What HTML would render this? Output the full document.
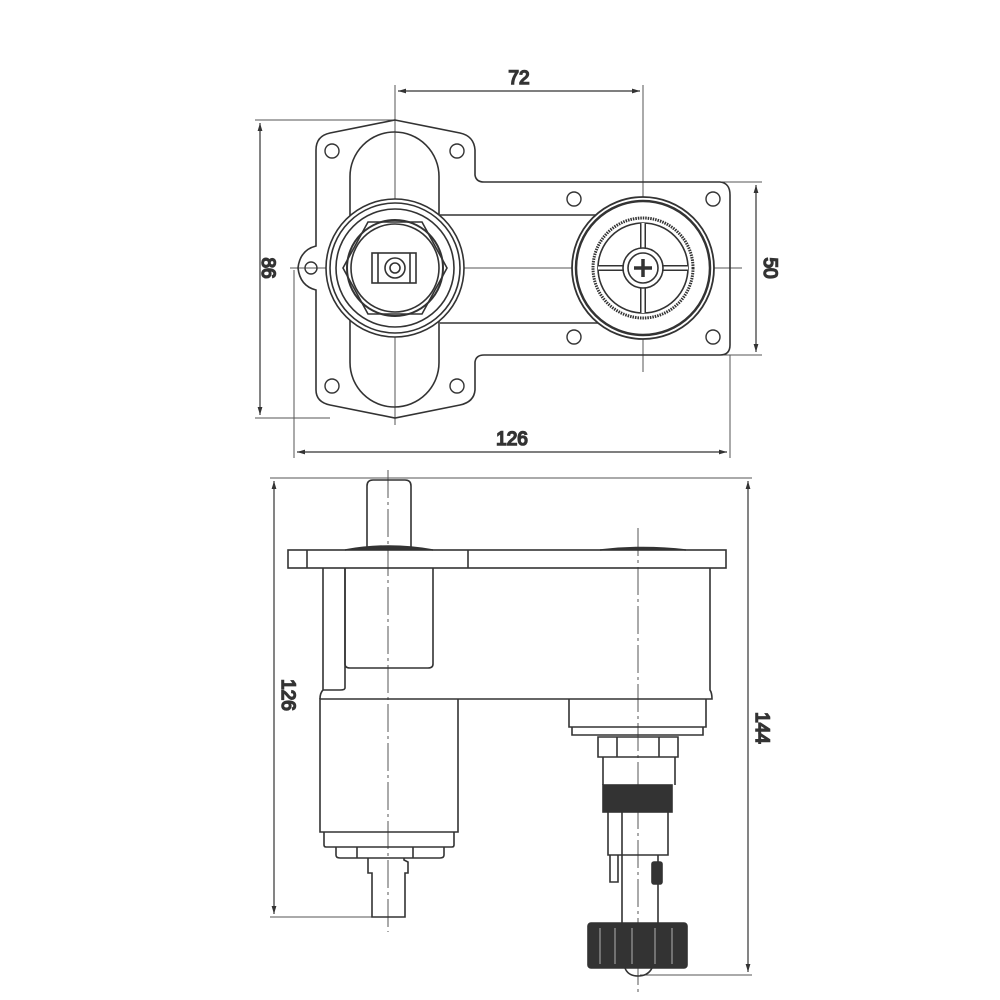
<!DOCTYPE html>
<html><head><style>body{margin:0;background:#fff}svg{display:block}text{font-family:"Liberation Sans",sans-serif;font-size:19px;fill:#333}</style></head><body>
<svg width="1000" height="1000" viewBox="0 0 1000 1000" fill="none" stroke="#333" stroke-width="1.6">
<defs><marker id="a" viewBox="0 0 10 10" refX="10" refY="5" markerWidth="14" markerHeight="8" orient="auto-start-reverse" markerUnits="userSpaceOnUse"><path d="M0,2 L10,5 L0,8z" fill="#333" stroke="none"/></marker></defs>
<!-- thin lines -->
<g stroke-width="1" stroke="#555">
<line x1="395" y1="85" x2="395" y2="425"/><line x1="643" y1="85" x2="643" y2="372"/>
<line x1="255" y1="120" x2="395" y2="120"/><line x1="255" y1="418" x2="330" y2="418"/>
<line x1="294" y1="270" x2="294" y2="458"/><line x1="730" y1="355" x2="730" y2="458"/>
<line x1="712" y1="182" x2="762" y2="182"/><line x1="712" y1="355" x2="762" y2="355"/>
<line x1="290" y1="268" x2="742" y2="268"/>
<line x1="270" y1="478" x2="752" y2="478"/><line x1="270" y1="917" x2="382" y2="917"/><line x1="640" y1="975" x2="752" y2="975"/>
<line x1="388" y1="470" x2="388" y2="932" stroke-dasharray="28 4 3 4"/><line x1="638" y1="528" x2="638" y2="992" stroke-dasharray="28 4 3 4"/>
</g>
<g stroke-width="1.2">
<line x1="398" y1="91" x2="640" y2="91" marker-start="url(#a)" marker-end="url(#a)"/>
<line x1="260" y1="123" x2="260" y2="415" marker-start="url(#a)" marker-end="url(#a)"/>
<line x1="297" y1="452" x2="727" y2="452" marker-start="url(#a)" marker-end="url(#a)"/>
<line x1="756" y1="185" x2="756" y2="352" marker-start="url(#a)" marker-end="url(#a)"/>
<line x1="274" y1="481" x2="274" y2="914" marker-start="url(#a)" marker-end="url(#a)"/>
<line x1="748" y1="481" x2="748" y2="972" marker-start="url(#a)" marker-end="url(#a)"/>
</g>
<text x="519" y="84" text-anchor="middle">72</text>
<text x="512" y="445" text-anchor="middle">126</text>
<text transform="translate(262,268) rotate(90)" text-anchor="middle">86</text>
<text transform="translate(764,268) rotate(90)" text-anchor="middle">50</text>
<text transform="translate(282,695) rotate(90)" text-anchor="middle">126</text>
<text transform="translate(756,728) rotate(90)" text-anchor="middle">144</text>
<!-- top plate -->
<path d="M395,120 L460,133 Q474,136 475,150 L475,175 Q476,182 484,182 L720,182 Q730,183 730,195 L730,345 Q730,355 720,355 L484,355 Q476,355 475,362 L475,390 Q474,402 460,405 L395,418 L330,405 Q316,402 316,390 L316,290 Q300,286 298,268 Q300,250 316,246 L316,150 Q316,136 330,133 Z"/>
<rect x="350" y="132" width="89" height="275" rx="44.5"/>
<g stroke-width="1.4"><circle cx="332" cy="151" r="7"/><circle cx="457" cy="151" r="7"/><circle cx="332" cy="386" r="7"/><circle cx="457" cy="386" r="7"/><circle cx="574" cy="199" r="7"/><circle cx="713" cy="199" r="7"/><circle cx="574" cy="337" r="7"/><circle cx="713" cy="337" r="7"/><circle cx="311" cy="268" r="6"/></g>
<line x1="440" y1="215" x2="600" y2="215"/><line x1="440" y1="323" x2="600" y2="323"/>
<circle cx="395" cy="268" r="69" fill="#fff"/><circle cx="395" cy="268" r="65"/><circle cx="395" cy="268" r="59"/>
<polygon points="343,268 368,222 422,222 447,268 422,314 368,314"/>
<circle cx="395" cy="268" r="48" stroke-width="2"/><circle cx="395" cy="268" r="44"/>
<rect x="372" y="253" width="44" height="30"/><line x1="378" y1="253" x2="378" y2="283"/><line x1="410" y1="253" x2="410" y2="283"/>
<circle cx="395" cy="268" r="10"/><circle cx="395" cy="268" r="5"/>
<circle cx="643" cy="268" r="71" fill="#fff" stroke-width="1.8"/><circle cx="643" cy="268" r="67" stroke-width="2.5"/>
<circle cx="643" cy="268" r="50" stroke-width="3" stroke-dasharray="1.5 1"/><circle cx="643" cy="268" r="45"/>
<line x1="598" y1="268" x2="688" y2="268" stroke-width="6"/><line x1="643" y1="223" x2="643" y2="313" stroke-width="6"/>
<line x1="598" y1="268" x2="688" y2="268" stroke="#fff" stroke-width="3"/><line x1="643" y1="223" x2="643" y2="313" stroke="#fff" stroke-width="3"/>
<circle cx="643" cy="268" r="20" fill="#fff"/><circle cx="643" cy="268" r="15"/>
<path d="M643,259 V277 M634,268 H652" stroke-width="3.5"/>
<!-- side view -->
<path d="M367,548 V486 Q367,480 373,480 H405 Q411,480 411,486 V548"/>
<path d="M345,550 Q389,542 433,550" fill="#333"/>
<path d="M600,550 Q643,545 686,550" fill="#333"/>
<rect x="288" y="550" width="438" height="18"/><line x1="307" y1="550" x2="307" y2="568"/><line x1="468" y1="550" x2="468" y2="568"/>
<path d="M323,568 V690 Q320,693 320,699 M345,568 V688 Q345,690 340,690 H323"/>
<path d="M345,568 V664 Q345,668 350,668 H428 Q433,668 433,664 V568"/>
<path d="M710,568 V690 Q712,693 712,699 H320 V832 H458 V699"/>
<path d="M324,832 V845 Q324,847 326,847 H452 Q454,847 454,845 V832"/>
<path d="M336,847 V855 Q336,858 340,858 H440 Q444,858 444,855 V847 M357,847 V858 M413,847 V858"/>
<path d="M368,858 V873 H372 V917 H405 V873 H408 V862 L404,860 V858"/>
<path d="M569,699 V727 H706 V699 M572,727 V735 H703 V727"/>
<path d="M598,737 V757 H678 V737 Z M617,737 V757 M659,737 V757"/>
<path d="M603,757 V785 M675,757 V785"/>
<rect x="603" y="785" width="69" height="27" fill="#333"/>
<path d="M608,812 V855 H668 V812 M622,812 V855"/>
<path d="M610,855 V882 H618 V855 M622,855 V925 M658,855 V925"/>
<rect x="652" y="862" width="10" height="22" rx="2" fill="#333"/>
<rect x="588" y="923" width="99" height="45" rx="3" fill="#333"/>
<g stroke="#888" stroke-width="1.5"><line x1="600" y1="928" x2="600" y2="964"/><line x1="615" y1="928" x2="615" y2="964"/><line x1="632" y1="928" x2="632" y2="964"/><line x1="655" y1="928" x2="655" y2="964"/><line x1="672" y1="928" x2="672" y2="964"/></g>
<path d="M625,968 Q628,976 638,976 Q648,976 652,968"/>
</svg>
</body></html>
